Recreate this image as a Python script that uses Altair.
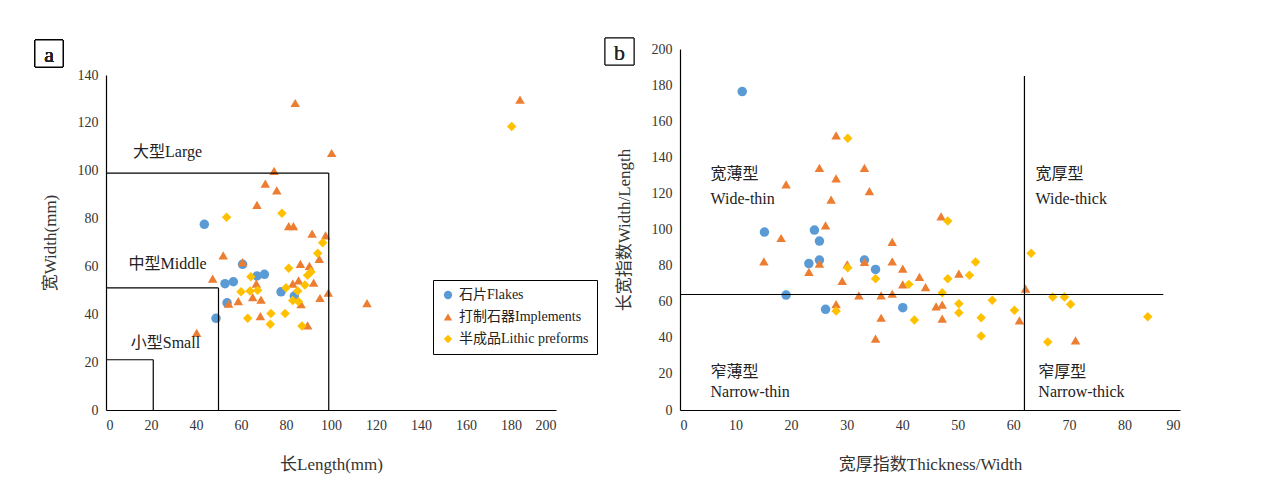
import altair as alt
import pandas as pd

FONT = "'Liberation Serif', 'Times New Roman', 'Noto Sans CJK SC', serif"

GROUPS = ["石片Flakes", "打制石器Implements", "半成品Lithic preforms"]
COLORS = ["#5B9BD5", "#ED7D31", "#FFC000"]
SHAPES = ["circle", "triangle-up", "diamond"]

# panel a: length vs width (mm)
a_flake_x = [43.7, 60.7, 52.9, 56.6, 67.1, 70.4, 77.8, 53.8, 48.9, 83.7]
a_flake_y = [77.6, 60.9, 52.8, 53.6, 56.0, 56.7, 49.4, 44.8, 38.3, 47.6]
a_impl_x = [84.1, 184.0, 100.3, 74.7, 70.8, 75.9, 67.1, 81.2, 83.3, 91.6, 97.6, 52.1,
            60.7, 47.4, 86.4, 90.4, 94.8, 66.8, 83.0, 85.6, 92.3, 98.8, 95.1, 54.5,
            58.8, 65.2, 68.9, 68.6, 89.6, 116.0, 40.3, 86.7]
a_impl_y = [128.3, 129.7, 107.4, 99.9, 94.6, 91.8, 85.7, 76.8, 76.8, 73.7, 73.0, 64.6,
            61.8, 54.9, 61.1, 60.2, 63.2, 52.8, 52.8, 54.2, 53.2, 49.0, 46.8, 44.4,
            45.5, 47.2, 46.1, 39.2, 35.4, 44.7, 32.2, 44.2]
a_pre_x = [180.3, 53.6, 78.2, 96.3, 94.1, 81.2, 91.1, 89.6, 64.4, 80.0, 88.4, 60.0,
           64.0, 67.4, 85.2, 83.0, 85.5, 73.3, 79.6, 63.0, 73.0, 87.1]
a_pre_y = [118.5, 80.6, 82.2, 69.9, 65.5, 59.2, 57.7, 56.3, 55.7, 51.1, 52.2, 49.4,
           49.7, 50.0, 49.7, 45.8, 45.3, 40.3, 40.3, 38.3, 35.8, 35.1]

# panel b: thickness/width index vs width/length index
b_flake_x = [11.2, 15.2, 24.2, 25.1, 25.1, 23.2, 33.2, 35.2, 19.1, 26.2, 40.1]
b_flake_y = [176.4, 98.6, 99.7, 93.6, 83.1, 81.1, 83.1, 77.9, 63.7, 55.8, 56.7]
b_impl_x = [28.1, 25.1, 33.2, 28.1, 19.1, 34.1, 27.2, 26.2, 18.2, 15.1, 25.1, 23.2,
            30.1, 33.2, 38.2, 38.2, 40.1, 29.2, 43.1, 44.2, 40.1, 32.2, 36.2, 38.2,
            28.1, 46.1, 47.2, 36.2, 47.2, 35.2, 47.0, 50.2, 62.2, 61.1, 71.2]
b_impl_y = [152.2, 134.2, 134.2, 128.3, 125.0, 121.3, 116.5, 102.3, 95.3, 82.4, 81.1,
            76.5, 80.7, 82.0, 93.1, 82.4, 78.3, 71.5, 73.7, 68.1, 69.6, 63.5, 63.5,
            64.4, 58.6, 57.4, 58.4, 51.1, 50.6, 39.5, 107.3, 75.5, 67.2, 49.7, 38.6]
b_pre_x = [30.2, 48.2, 63.2, 53.2, 30.2, 35.2, 41.2, 48.2, 52.1, 47.2, 56.2, 50.2,
           50.2, 60.2, 67.1, 69.2, 70.3, 28.1, 42.2, 54.2, 54.2, 66.2, 84.2]
b_pre_y = [150.5, 104.7, 86.8, 82.0, 78.8, 72.7, 69.6, 72.7, 74.6, 65.0, 60.8, 58.9,
           53.9, 55.2, 62.6, 62.6, 58.6, 54.8, 49.9, 51.1, 41.0, 37.7, 51.7]

# reference lines (x, y, x2, y2)
a_lines_x = [0, 99, 0, 50, 0, 21]
a_lines_y = [99, 0, 51, 0, 21, 0]
a_lines_x2 = [99, 99, 50, 50, 21, 21]
a_lines_y2 = [99, 99, 51, 51, 21, 21]
a_label_text = ["大型Large", "中型Middle", "小型Small"]
a_label_x = [12, 10, 11]
a_label_y = [108, 61, 28]

b_lines_x = [62, 0]
b_lines_y = [0, 64]
b_lines_x2 = [62, 87]
b_lines_y2 = [185, 64]
b_label_text = ["宽薄型", "Wide-thin", "宽厚型", "Wide-thick",
                "窄薄型", "Narrow-thin", "窄厚型", "Narrow-thick"]
b_label_x = [5.5, 5.5, 64, 64, 5.5, 5.5, 64.5, 64.5]
b_label_y = [131, 117, 131, 117, 21, 10, 21, 10]


def points(xs, ys):
    return pd.concat(
        [pd.DataFrame({"x": x, "y": y, "g": g}) for x, y, g in zip(xs, ys, GROUPS)]
    )


color = alt.Color("g:N", sort=GROUPS).scale(domain=GROUPS, range=COLORS)
shape = alt.Shape("g:N", sort=GROUPS).scale(domain=GROUPS, range=SHAPES)


def tag_box(df, tag, x0, x1, y0, y1):
    box = alt.Chart(df).mark_rect(fill="white", stroke="black", strokeWidth=1).encode(
        x=alt.value(x0), x2=alt.value(x1), y=alt.value(y0), y2=alt.value(y1))
    txt = alt.Chart(df).mark_text(
        fontSize=22, font=FONT, fontWeight="normal", color="#222").encode(
        x=alt.value((x0 + x1) / 2), y=alt.value((y0 + y1) / 2 + 1), text=alt.value(tag))
    return box + txt


def panel(df, lines, labels, xdom, xstep, ydom, ystep, xtitle, ytitle, legend, w, h):
    # every layer carries the same axis spec so the merged axis keeps all ticks
    xs = alt.X("x:Q").scale(domain=xdom, nice=False).axis(
        values=list(range(xdom[0], xdom[1] + 1, xstep)), title=xtitle)
    ys = alt.Y("y:Q").scale(domain=ydom, nice=False).axis(
        values=list(range(ydom[0], ydom[1] + 1, ystep)), title=ytitle)
    pts = alt.Chart(df).mark_point(filled=True, opacity=1, size=90).encode(
        x=xs, y=ys,
        color=color.legend(legend),
        shape=shape.legend(legend),
    )
    rules = alt.Chart(lines).mark_rule(color="black", strokeWidth=1.2).encode(
        x=xs, y=ys, x2="x2:Q", y2="y2:Q")
    texts = alt.Chart(labels).mark_text(
        align="left", fontSize=16, font=FONT, color="#222").encode(
        x=xs, y=ys, text="t:N")
    return (pts + rules + texts).properties(width=w, height=h)


a_lines = pd.DataFrame({"x": a_lines_x, "y": a_lines_y, "x2": a_lines_x2, "y2": a_lines_y2})
a_labels = pd.DataFrame({"x": a_label_x, "y": a_label_y, "t": a_label_text})
b_lines = pd.DataFrame({"x": b_lines_x, "y": b_lines_y, "x2": b_lines_x2, "y2": b_lines_y2})
b_labels = pd.DataFrame({"x": b_label_x, "y": b_label_y, "t": b_label_text})

legend_a = alt.Legend(
    title=None, orient="none", legendX=327, legendY=231, strokeColor="black",
    padding=8, labelFont=FONT, labelFontSize=14, labelColor="#222", rowPadding=8,
    symbolSize=70, fillColor="white", labelLimit=300,
)

chart_a = panel(points([a_flake_x, a_impl_x, a_pre_x], [a_flake_y, a_impl_y, a_pre_y]),
                a_lines, a_labels, [0, 200], 20, [0, 140], 20,
                "长Length(mm)", "宽Width(mm)", legend_a, 450, 335)
# spacer above panel a carries its tag, so panel b's plot can start higher
spacer_a = tag_box(a_lines, "a", -71, -43, -9, 18).properties(width=450, height=1)
left = alt.vconcat(spacer_a, chart_a, spacing=25, bounds="flush")

chart_b = panel(points([b_flake_x, b_impl_x, b_pre_x], [b_flake_y, b_impl_y, b_pre_y]),
                b_lines, b_labels, [0, 90], 10, [0, 200], 20,
                "宽厚指数Thickness/Width", "长宽指数Width/Length", None, 500, 361)
chart_b = chart_b + tag_box(b_lines, "b", -75, -46, -11, 16)

chart = (
    alt.hconcat(left, chart_b, spacing=48)
    .resolve_scale(color="shared", shape="shared")
    .properties(padding={"left": 26, "top": 29, "right": 5, "bottom": 5})
    .configure_view(stroke=None)
    .configure_axis(
        grid=False, ticks=False, domainColor="black", domainWidth=1.2,
        labelFont=FONT, labelFontSize=14, labelColor="#333", labelPadding=8,
        labelOverlap=False,
        titleFont=FONT, titleFontSize=17, titleFontWeight="normal", titleColor="#333",
    )
    .configure_axisY(titlePadding=18)
    .configure_axisX(titlePadding=24)
)

chart.save("out.html", embed_options={"renderer": "svg", "actions": False})
